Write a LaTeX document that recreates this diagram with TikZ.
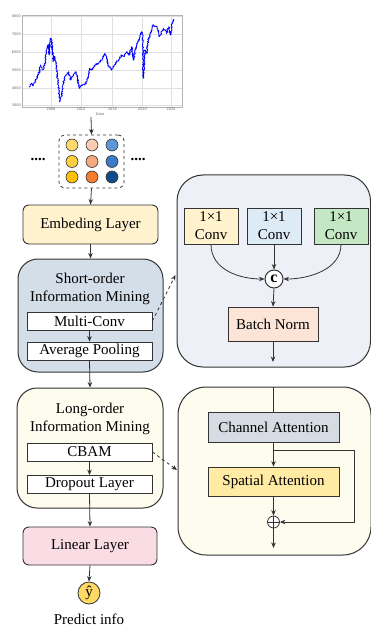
\documentclass[tikz,border=0pt]{standalone}
\usepackage{fontspec}
\setmainfont{Liberation Serif}
\newfontfamily\tickfont{DejaVu Sans}
\usetikzlibrary{arrows.meta,decorations.pathmorphing,calc}
\definecolor{edge}{HTML}{333333}
\definecolor{embfill}{HTML}{FFF2CC}
\definecolor{shortfill}{HTML}{D3DEE8}
\definecolor{rtfill}{HTML}{EDF0F7}
\definecolor{longfill}{HTML}{FEFCEF}
\definecolor{linfill}{HTML}{F9DCE4}
\definecolor{convy}{HTML}{FFF2CC}
\definecolor{convb}{HTML}{DDEBF7}
\definecolor{convg}{HTML}{C3E8C3}
\definecolor{bnfill}{HTML}{FCE4D6}
\definecolor{cafill}{HTML}{D6DCE4}
\definecolor{safill}{HTML}{FFEBA3}
\definecolor{yhatfill}{HTML}{FFD966}
\definecolor{ca}{HTML}{FFDA6B}
\definecolor{cb}{HTML}{FFCF40}
\definecolor{cc}{HTML}{FFC107}
\definecolor{cd}{HTML}{F9CBB0}
\definecolor{ce}{HTML}{F4A97F}
\definecolor{cf}{HTML}{F47D30}
\definecolor{cg}{HTML}{5B96D6}
\definecolor{ch}{HTML}{3B7BC8}
\definecolor{ci}{HTML}{0D4A8C}
\begin{document}
\begin{tikzpicture}[x=1pt,y=-1pt,
  >={Stealth[length=5.5pt,width=4.5pt]},
  txt/.style={font=\fontsize{15}{18}\selectfont},
  blk/.style={draw=edge, line width=0.9pt, rounded corners=6pt, txt, inner sep=0pt},
  sub/.style={draw=edge, line width=0.8pt, fill=white, txt, inner sep=0pt, minimum width=125pt, minimum height=18pt},
  panel/.style={draw=edge, line width=1pt, rounded corners=20pt, inner sep=0pt},
  sq/.style={draw=edge, line width=0.8pt, txt, inner sep=0pt, align=center},
  ln/.style={draw=edge, line width=0.8pt},
  dot/.style={circle, draw=edge, line width=0.6pt, minimum size=12pt, inner sep=0pt},
  tick/.style={font=\tickfont\fontsize{3.5}{4}\selectfont, text=gray!80!black, inner sep=0.5pt},
  ttl/.style={txt, align=center, inner sep=0pt}
]
\useasboundingbox (0,0) rectangle (371,628);
\fill[white] (0,0) rectangle (371,628);

% ---------- chart ----------
\fill[white] (22,15) rectangle (182,107);
\foreach \y in {16,34.3,52.3,70.3,88.3,105.3}
  \draw[gray!25, line width=0.5pt] (22,\y) -- (182,\y);
\foreach \x in {51,81,112.3,142.3,171}
  \draw[gray!25, line width=0.5pt] (\x,15) -- (\x,107);
\draw[gray!60, line width=0.5pt] (22,15) rectangle (182,107);
\foreach \v/\y in {8000/16,7000/34.3,6000/52.3,5000/70.3,4000/88.3,3000/105.3}
  \node[tick, anchor=east] at (21.5,\y) {\v};
\foreach \yr/\x in {2008/51,2012/81,2016/112.3,2020/142.3,2024/171}
  \node[tick, anchor=north] at (\x,107.5) {\yr};
\node[tick] at (100,114) {Date};
\pgfmathsetseed{7}
\draw[blue, line width=0.8pt, line join=round, decorate,
  decoration={random steps, segment length=0.6pt, amplitude=0.8pt}]
  plot coordinates {(29.3,87.3) (31.7,83.3) (33.3,86) (36.7,78.3) (39.3,71.7)
  (40.7,65) (42.7,70) (45,63.3) (46.7,50) (48.3,45) (49.3,55) (50,40) (51,38.3)
  (52,45) (53.3,61.7) (55,56.7) (56.7,70) (58.3,85) (60,101.7) (61.7,95)
  (63.3,83.3) (65.7,75) (68.3,71.7) (70.7,80) (73.3,75) (76,71.7) (77.3,76.7)
  (79.3,88.3) (81.7,85) (85,85) (87.3,80) (90,68.3) (91.7,70) (95,65) (98.3,63.3)
  (100,61.7) (102.7,58.3) (105,53.3) (106.7,58.3) (108.3,65) (111.7,70)
  (113.3,66.7) (116.7,61.7) (119.3,59.3) (121.7,55) (124,56.7) (126.7,51.7)
  (129.3,55) (131.7,46.7) (133.3,60) (135,51.7) (137.3,43.3) (139.3,38.3)
  (141.7,31.7) (142.7,36.7) (143.3,78.3) (145,50) (146.7,53.3) (148.3,40)
  (150.7,33.3) (152.7,25) (155,26.7) (157.3,26.7) (159.3,36.7) (161.3,33.3)
  (163.3,28.3) (165.3,30) (166.7,33.3) (168.7,26.7) (170.7,35) (172,23.3)
  (173.3,20) (174.3,19.3)};
\coordinate (chartbot) at (91,117);

% ---------- tokens ----------
\node[draw=edge, dashed, line width=0.8pt, rounded corners=6pt, minimum width=65pt, minimum height=53pt, inner sep=0pt] (tok) at (91.5,161.5) {};
\foreach \c/\x/\y/\n in {ca/72/145/1, cb/72/161.5/2, cc/72/177/3,
                         cd/92/145/4, ce/92/161.5/5, cf/92/177/6,
                         cg/112/145/7, ch/112/161.5/8, ci/112/177/9}
  \node[dot, fill=\c] (d\n) at (\x,\y) {};
\node[txt, inner sep=0pt] (ldots) at (38,159) {\textbf{....}};
\node[txt, inner sep=0pt] (rdots) at (138,159) {\textbf{....}};

% ---------- left column ----------
\node[blk, fill=embfill, minimum width=135pt, minimum height=39pt] (emb) at (90.5,224.5) {Embeding Layer};
\node[panel, fill=shortfill, minimum width=145pt, minimum height=113pt] (short) at (90.5,315.5) {};
\node[ttl] (shortttl) at (90,289) {Short-order\\Information Mining};
\node[sub] (mc) at (89.5,321) {Multi-Conv};
\node[sub] (ap) at (89.5,351) {Average Pooling};

\node[panel, fill=longfill, minimum width=146pt, minimum height=120pt] (long) at (90,448) {};
\node[ttl] (longttl) at (90,419) {Long-order\\Information Mining};
\node[sub] (cbam) at (89.5,452) {CBAM};
\node[sub] (drop) at (89.5,484.5) {Dropout Layer};

\node[blk, fill=linfill, minimum width=134pt, minimum height=38pt] (lin) at (90,546) {Linear Layer};
\node[circle, draw=edge, line width=0.8pt, fill=yhatfill, minimum size=22pt, inner sep=0pt, txt] (yhat) at (89,593) {ŷ};
\node[txt, inner sep=0pt] (pred) at (89,619.5) {Predict info};

\draw[ln,->] (chartbot) -- (tok.north);
\draw[ln,->] (tok.south) -- (emb.north);
\draw[ln,->] (emb.south) -- (short.north);
\draw[ln,->] (mc.south) -- (ap.north);
\draw[ln,->] (ap.south) -- (long.north);
\draw[ln,->] (cbam.south) -- (drop.north);
\draw[ln,->] (drop.south) -- (lin.north);
\draw[ln,->] (lin.south) -- (yhat.north);

% ---------- right top panel ----------
\node[panel, fill=rtfill, rounded corners=26pt, minimum width=193.5pt, minimum height=192pt] (rt) at (273.75,271) {};
\node[sq, fill=convy, minimum width=54pt, minimum height=36pt] (cy) at (211,226) {1×1\\Conv};
\node[sq, fill=convb, minimum width=54pt, minimum height=36pt] (cbl) at (274,226) {1×1\\Conv};
\node[sq, fill=convg, minimum width=54pt, minimum height=36pt] (cgr) at (341,226) {1×1\\Conv};
\node[circle, draw=edge, line width=1pt, fill=white, minimum size=18pt, inner sep=0pt, font=\fontsize{16}{18}\selectfont\bfseries] (cat) at (274,279) {c};
\node[sq, fill=bnfill, minimum width=90pt, minimum height=34pt] (bn) at (273,324) {Batch Norm};
\coordinate (bnout) at (273,362);
\draw[ln,->] (cy.south) .. controls (211,270) and (240,279) .. (cat.west);
\draw[ln,->] (cgr.south) .. controls (341,270) and (308,279) .. (cat.east);
\draw[ln,->] (cbl.south) -- (cat.north);
\draw[ln,->] (cat.south) -- (bn.north);
\draw[ln,->] (bn.south) -- (bnout);

% ---------- right bottom panel ----------
\node[panel, fill=longfill, rounded corners=28pt, minimum width=193pt, minimum height=168pt] (rb) at (274.5,471) {};
\coordinate (bin) at (273.5,387);
\node[sq, fill=cafill, minimum width=131pt, minimum height=30pt] (chan) at (273.5,427) {Channel Attention};
\node[sq, fill=safill, minimum width=131pt, minimum height=29pt] (spat) at (273.5,481.5) {Spatial Attention};
\node[circle, draw=edge, line width=0.8pt, fill=white, minimum size=12pt, inner sep=0pt,
  path picture={\draw[edge, line width=0.8pt] (path picture bounding box.north) -- (path picture bounding box.south) (path picture bounding box.west) -- (path picture bounding box.east);}] (plus) at (273.5,522) {};
\coordinate (br) at (273.5,450);
\coordinate (brc) at (354,486);
\coordinate (plout) at (273.5,548);
\draw[ln] (bin) -- (chan.north);
\draw[ln,->] (chan.south) -- (spat.north);
\draw[ln] (br) -| (brc);
\draw[ln,->] (brc) |- (plus.east);
\draw[ln,->] (spat.south) -- (plus.north);
\draw[ln,->] (plus.south) -- (plout);

% ---------- dashed links ----------
\coordinate (rtin) at (175.5,275);
\coordinate (rbin) at (177,470);
\draw[ln, dashed, ->] (mc.east) -- (rtin);
\draw[ln, dashed, ->] (cbam.east) -- (rbin);
\end{tikzpicture}
\end{document}
